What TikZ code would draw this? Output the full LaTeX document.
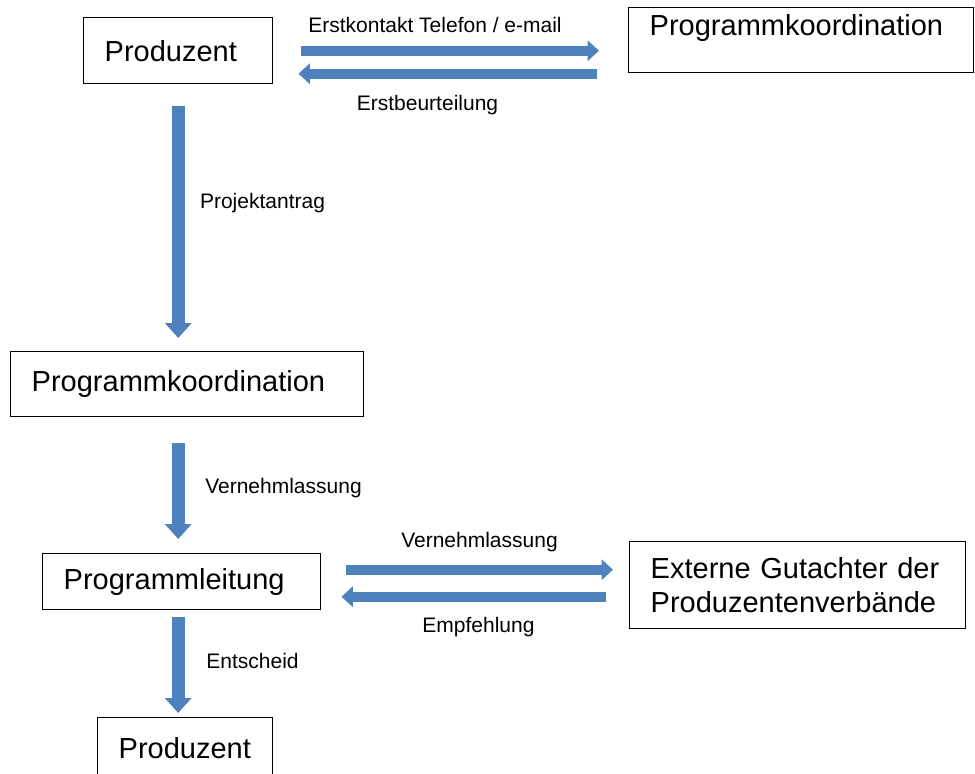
\documentclass[tikz,border=0pt]{standalone}
\usepackage{fontspec}
\setmainfont{Liberation Sans}
\usetikzlibrary{arrows.meta}
\definecolor{flowblue}{HTML}{4F81BD}
\newcommand{\BOXFONT}{\fontsize{21.75pt}{25.5pt}\selectfont}
\newcommand{\LABELFONT}{\fontsize{15.75pt}{19pt}\selectfont}
\tikzset{
  box/.style={draw, line width=1.1pt, anchor=north west, align=left,
    inner xsep=15.75pt, inner ysep=0pt, font=\BOXFONT},
  varrow/.style={draw=flowblue, line width=9.75pt,
    -{Triangle[width=19.5pt,length=11.25pt]}},
  harrow/.style={draw=flowblue, line width=7.5pt,
    -{Triangle[width=15pt,length=8.5pt]}},
  lbl/.style={font=\LABELFONT, inner sep=0pt}
}

\begin{document}
\begin{tikzpicture}[x=0.75pt, y=-0.75pt]

  \useasboundingbox (0,0) rectangle (975,774);

  %% boxes
  \node[box, text width=110.25pt, minimum height=49.5pt] (prodtop) at (83,17) {Produzent};
  \node[box, text width=227.25pt, text height=20.6pt, text depth=28.1pt]
  (koordtop) at (628,7) {Programmkoordination};
  \node[box, text width=233.25pt, minimum height=48.75pt] (koordmid) at (10,351) {Programmkoordination};
  \node[box, text width=177pt, minimum height=42pt] (leitung) at (42,553) {Programmleitung};
  \node[box, text width=220.5pt, minimum height=65.25pt]
  (gutachter) at (629,541) {Externe Gutachter der\\Produzentenverb\"ande};
  \node[box, text width=99.75pt, minimum height=45pt] (prodbottom) at (97,717) {Produzent};

  %% labels
  \node[lbl] (erstkontakt) at (435,25) {Erstkontakt Telefon / e-mail};
  \node[lbl] (erstbeurteilung) at (427.5,105) {Erstbeurteilung};
  \node[lbl] (projektantrag) at (262.5,203) {Projektantrag};
  \node[lbl] (vernmid) at (283.5,488) {Vernehmlassung};
  \node[lbl] (vernright) at (479.5,542) {Vernehmlassung};
  \node[lbl] (empfehlung) at (478.5,627) {Empfehlung};
  \node[lbl] (entscheid) at (252.5,661) {Entscheid};

  \coordinate (erstback) at ([yshift=-17.25pt]prodtop.east);
  \coordinate (vernto) at ([yshift=9pt]leitung.east);
  \coordinate (empfback) at ([yshift=-11.25pt]leitung.east);

  \draw[harrow, shorten <=21pt, shorten >=21.75pt]
  (prodtop.east) -- (prodtop.east -| koordtop.west); %% prod -> koord
  \draw[harrow, shorten <=23.25pt, shorten >=18.75pt]
  (erstback -| koordtop.west) -- (erstback); %% koord -> prod

  \draw[varrow, shorten <=16.5pt, shorten >=9.75pt]
  (prodtop.south) -- (prodtop.south |- koordmid.north); %% antrag
  \draw[varrow, shorten <=19.5pt, shorten >=10.5pt]
  (prodtop.south |- koordmid.south) -- (prodtop.south |- leitung.north);
  \draw[varrow, shorten <=5.25pt, shorten >=3pt]
  (prodtop.south |- leitung.south) -- (prodtop.south |- prodbottom.north); %% entscheid

  \draw[harrow, shorten <=18.75pt, shorten >=12pt]
  (vernto) -- (vernto -| gutachter.west); %% leitung -> gutachter
  \draw[harrow, shorten <=17.25pt, shorten >=15pt]
  (empfback -| gutachter.west) -- (empfback); %% gutachter -> leitung

\end{tikzpicture}
\end{document}
